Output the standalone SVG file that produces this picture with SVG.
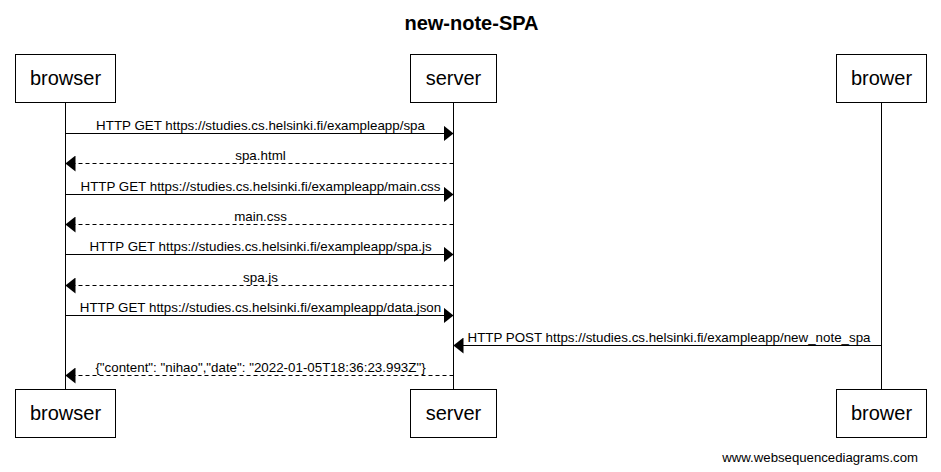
<svg xmlns="http://www.w3.org/2000/svg" width="941" height="472" viewBox="0 0 941 472">
<style>
.box{fill:#fff;stroke:#000;stroke-width:1}
.life{stroke:#000;stroke-width:1}
.name{font-family:"Liberation Sans",Arial,sans-serif;font-size:20px;text-anchor:middle;fill:#000}
.msg{stroke:#000;stroke-width:1;fill:none}
.dash{stroke-dasharray:4 3}
.lbl{font-family:"Liberation Sans",Arial,sans-serif;font-size:13.35px;text-anchor:middle;fill:#000}
.title{font-family:"Liberation Sans",Arial,sans-serif;font-size:20px;font-weight:bold;text-anchor:middle;fill:#000}
.foot{font-family:"Liberation Sans",Arial,sans-serif;font-size:13.2px;text-anchor:end;fill:#000}
</style>
<defs>
<marker id="ah" markerWidth="10" markerHeight="16" refX="10" refY="8" orient="auto" markerUnits="userSpaceOnUse">
<path d="M0,0 L10,8 L0,16 Z" fill="#000"/>
</marker>
</defs>
<rect width="941" height="472" fill="#fff"/>
<text class="title" x="471.5" y="30">new-note-SPA</text>
<g id="lifelines">
<line class="life" x1="65.5" y1="103" x2="65.5" y2="389"/>
<line class="life" x1="453.5" y1="103" x2="453.5" y2="389"/>
<line class="life" x1="881.5" y1="103" x2="881.5" y2="389"/>
</g>
<g id="browser">
<rect class="box" x="15.5" y="54.5" width="100" height="48"/>
<text class="name" x="65.5" y="85">browser</text>
<rect class="box" x="15.5" y="389.5" width="100" height="48"/>
<text class="name" x="65.5" y="420">browser</text>
</g>
<g id="server">
<rect class="box" x="410.5" y="54.5" width="86" height="48"/>
<text class="name" x="453.5" y="85">server</text>
<rect class="box" x="410.5" y="389.5" width="86" height="48"/>
<text class="name" x="453.5" y="420">server</text>
</g>
<g id="brower">
<rect class="box" x="836.5" y="54.5" width="90" height="48"/>
<text class="name" x="881.5" y="85">brower</text>
<rect class="box" x="836.5" y="389.5" width="90" height="48"/>
<text class="name" x="881.5" y="420">brower</text>
</g>
<g id="connectors">
<line class="msg" x1="65.5" y1="133.5" x2="453.5" y2="133.5" marker-end="url(#ah)"/>
<text class="lbl" x="260.5" y="129.5">HTTP GET https://studies.cs.helsinki.fi/exampleapp/spa</text>
<line class="msg dash" x1="453.5" y1="163.5" x2="65.5" y2="163.5" marker-end="url(#ah)"/>
<text class="lbl" x="260.5" y="159.5">spa.html</text>
<line class="msg" x1="65.5" y1="194.5" x2="453.5" y2="194.5" marker-end="url(#ah)"/>
<text class="lbl" x="260.5" y="190.5">HTTP GET https://studies.cs.helsinki.fi/exampleapp/main.css</text>
<line class="msg dash" x1="453.5" y1="224.5" x2="65.5" y2="224.5" marker-end="url(#ah)"/>
<text class="lbl" x="260.5" y="220.5">main.css</text>
<line class="msg" x1="65.5" y1="254.5" x2="453.5" y2="254.5" marker-end="url(#ah)"/>
<text class="lbl" x="260.5" y="250.5">HTTP GET https://studies.cs.helsinki.fi/exampleapp/spa.js</text>
<line class="msg dash" x1="453.5" y1="285.5" x2="65.5" y2="285.5" marker-end="url(#ah)"/>
<text class="lbl" x="260.5" y="281.5">spa.js</text>
<line class="msg" x1="65.5" y1="315.5" x2="453.5" y2="315.5" marker-end="url(#ah)"/>
<text class="lbl" x="260.5" y="311.5">HTTP GET https://studies.cs.helsinki.fi/exampleapp/data.json</text>
<line class="msg" x1="881.5" y1="345.5" x2="453.5" y2="345.5" marker-end="url(#ah)"/>
<text class="lbl" x="669" y="341.5">HTTP POST https://studies.cs.helsinki.fi/exampleapp/new_note_spa</text>
<line class="msg dash" x1="453.5" y1="375.5" x2="65.5" y2="375.5" marker-end="url(#ah)"/>
<text class="lbl" x="260.5" y="371.5">{"content": "nihao","date": "2022-01-05T18:36:23.993Z"}</text>
</g>
<text class="foot" x="918" y="462">www.websequencediagrams.com</text>
</svg>
